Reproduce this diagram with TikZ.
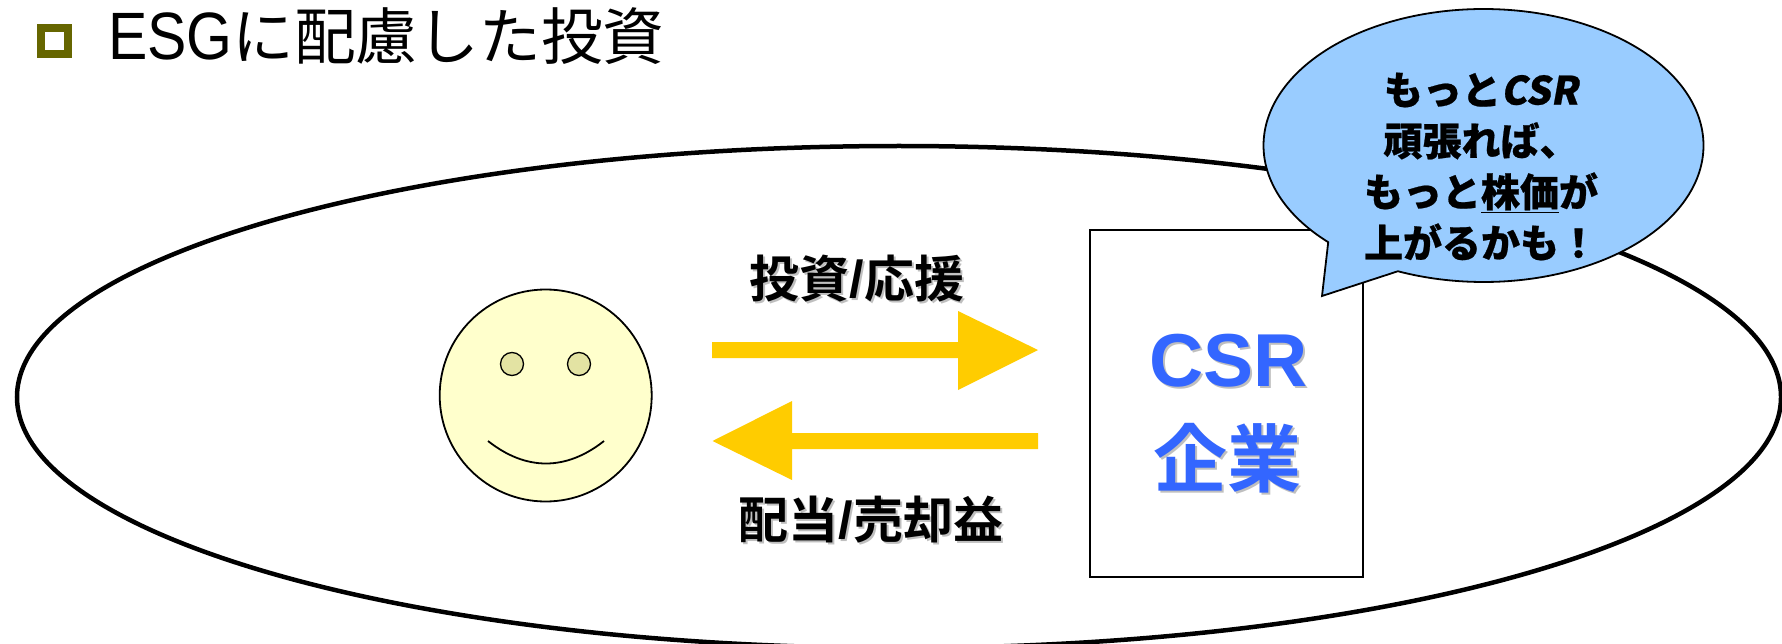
\documentclass[tikz,border=0pt]{standalone}
\usepackage{fontspec}
\usetikzlibrary{shapes.geometric}
\newfontfamily\jpreg{Noto Sans CJK JP}
\newfontfamily\jpbold{Noto Sans CJK JP Bold}
\newfontfamily\jpblack[FakeBold=0.6]{Noto Sans CJK JP Black}
\newfontfamily\popcsr[FakeSlant=0.18,FakeBold=0.6]{Noto Sans CJK JP Black}
\newfontfamily\arialb{Liberation Sans Bold}
\newfontfamily\arialn[FakeStretch=0.88]{Liberation Sans}
\definecolor{bulletc}{HTML}{666600}
\definecolor{facec}{HTML}{FFFFCC}
\definecolor{eyec}{HTML}{E3E3A3}
\definecolor{arrowc}{HTML}{FFCC00}
\definecolor{bubblec}{HTML}{99CCFF}
\definecolor{corpc}{HTML}{3366FF}
\definecolor{shadowc}{HTML}{BFBFBF}
\newcommand{\lblslash}{{\arialb\fontsize{52}{50}\selectfont /}}
\tikzset{
  base/.style={inner sep=0pt,outer sep=0pt},
  oval/.style={base,ellipse,draw=black,minimum width=#1},
  fatarrow/.style={fill=arrowc,draw=none},
  lbl/.style={base,font=\jpbold\fontsize{50}{50}\selectfont,black},
  lblshadow/.style={base,font=\jpbold\fontsize{50}{50}\selectfont,shadowc},
  corp/.style={base,text=corpc},
  corpshadow/.style={base,text=shadowc},
  bubbletext/.style={base,font=\jpblack\fontsize{39}{51}\selectfont,align=center}
}
\begin{document}
\begin{tikzpicture}[x=1pt,y=-1pt]
\clip (0,0) rectangle (1782,644);
\fill[white] (0,0) rectangle (1782,644);
% title
\node[base,draw=bulletc,line width=8pt,minimum width=27pt,minimum height=26pt] (bullet) at (54,41) {};
\node[base,anchor=west,font=\jpreg\fontsize{61.7}{70}\selectfont] (title) at (108,36) {{\arialn\fontsize{67}{70}\selectfont ESG}に配慮した投資};
% outer ellipse
\node[oval=1764pt,minimum height=502pt,line width=4.5pt] (world) at (899,397) {};
% face
\node[oval=212pt,minimum height=212pt,fill=facec,line width=1.8pt] (face) at (545.7,395.5) {};
\node[oval=23pt,minimum height=23pt,fill=eyec,line width=1.3pt] (eyeL) at (512,364) {};
\node[oval=23pt,minimum height=23pt,fill=eyec,line width=1.3pt] (eyeR) at (579,364) {};
\coordinate (smileL) at (488,441);
\coordinate (smileR) at (604,441);
\draw[line width=1.8pt] (smileL) .. controls (526,471) and (566,471) .. (smileR);
% company box
\node[base,draw=black,line width=1.8pt,fill=white,minimum width=273pt,minimum height=347pt] (corpbox) at (1226.5,403.5) {};
\node[corpshadow,font=\arialb\fontsize{75}{80}\selectfont] at (1230.5,362.5) {CSR};
\node[corp,font=\arialb\fontsize{75}{80}\selectfont] (csr) at (1228.5,360.5) {CSR};
\node[corpshadow,font=\jpbold\fontsize{74}{80}\selectfont] at (1229,460) {企業};
\node[corp,font=\jpbold\fontsize{74}{80}\selectfont] (kigyo) at (1227,458) {企業};
% arrows
\fill[fatarrow] (712,342) -- (958,342) -- (958,311) -- (1038,350) -- (958,390) -- (958,358) -- (712,358) -- cycle;
\fill[fatarrow] (1038,433) -- (792,433) -- (792,401) -- (712.5,441) -- (792,480) -- (792,449) -- (1038,449) -- cycle;
% labels
\node[lblshadow] at (859,281) {投資\lblslash 応援};
\node[lbl] (invest) at (857,279) {投資\lblslash 応援};
\node[lblshadow] at (873,522) {配当\lblslash 売却益};
\node[lbl] (divid) at (871,520) {配当\lblslash 売却益};
% bubble
\draw[fill=bubblec,draw=black,line width=1.8pt,domain=134.9:472.9,samples=240,variable=\t]
  plot ({1483.5+220*cos(\t)},{145.5+136.5*sin(\t)}) -- (1322,296) -- cycle;
\node[bubbletext] (bubble) at (1481,166.5) {もっと{\popcsr CSR}\\頑張れば、\\もっと\underline{株価}が\\上がるかも！};
\end{tikzpicture}
\end{document}
